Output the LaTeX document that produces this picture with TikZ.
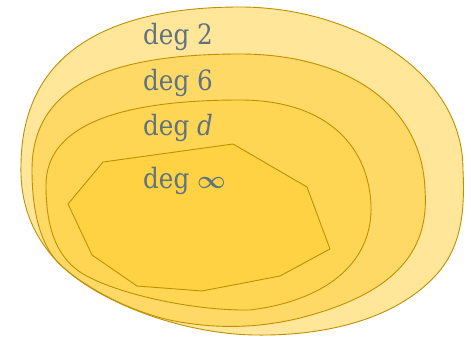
\documentclass[tikz,border=0pt]{standalone}
\usepackage{fontspec}
\newfontfamily\labelfont[FakeStretch=0.88]{DejaVu Serif}
\definecolor{ringA}{HTML}{FFE699}
\definecolor{ringB}{HTML}{FFD966}
\definecolor{ringC}{HTML}{FFD654}
\definecolor{ringD}{HTML}{FFD243}
\definecolor{rim}{HTML}{BF9000}
\definecolor{labelgray}{RGB}{94,115,130}
\begin{document}
\begin{tikzpicture}[x=1pt,y=-1pt,
  region/.style={draw=rim, line width=0.9pt, line join=round},
  deglabel/.style={text=labelgray, font=\labelfont\fontsize{28}{32}\selectfont,
    inner sep=0pt, anchor=base west}]
\useasboundingbox (0,0) rectangle (471,340);

% outermost region (degree 2)
\draw[region, fill=ringA] (53,257)
  .. controls (30,230) and (20,200) .. (21,165)
  .. controls (22,45) and (120,7) .. (240,7)
  .. controls (350,7) and (463,70) .. (463,170)
  .. controls (466,230) and (455,262) .. (420,290)
  .. controls (380,322) and (320,336) .. (255,335)
  .. controls (180,334) and (90,300) .. cycle;

% degree 6 region
\draw[region, fill=ringB] (52,255)
  .. controls (38,235) and (32,205) .. (32,170)
  .. controls (32,85) and (110,54) .. (240,54)
  .. controls (340,54) and (422,100) .. (425,190)
  .. controls (430,255) and (390,295) .. (300,318)
  .. controls (255,329) and (215,328) .. (180,322)
  .. controls (130,314) and (70,280) .. cycle;

% degree d region
\draw[region, fill=ringC] (46,185)
  .. controls (46,125) and (120,100) .. (240,100)
  .. controls (320,100) and (368,140) .. (371,205)
  .. controls (373,260) and (330,300) .. (250,310)
  .. controls (190,311) and (110,292) .. (80,272)
  .. controls (55,255) and (46,225) .. cycle;

% degree infinity: polygon
\draw[region, fill=ringD] (103,162) -- (233,144) -- (307,187) -- (330,249)
  -- (280,276) -- (202,291) -- (137,286) -- (92,255) -- (68,204) -- cycle;

\node[deglabel] (l2) at (143,44) {deg 2};
\node[deglabel] (l6) at (143,90) {deg 6};
\node[deglabel] (ld) at (143,135) {deg \textit{d}};
\node[deglabel] (li) at (143,188) {deg {\boldmath$\infty$}};
\end{tikzpicture}
\end{document}
